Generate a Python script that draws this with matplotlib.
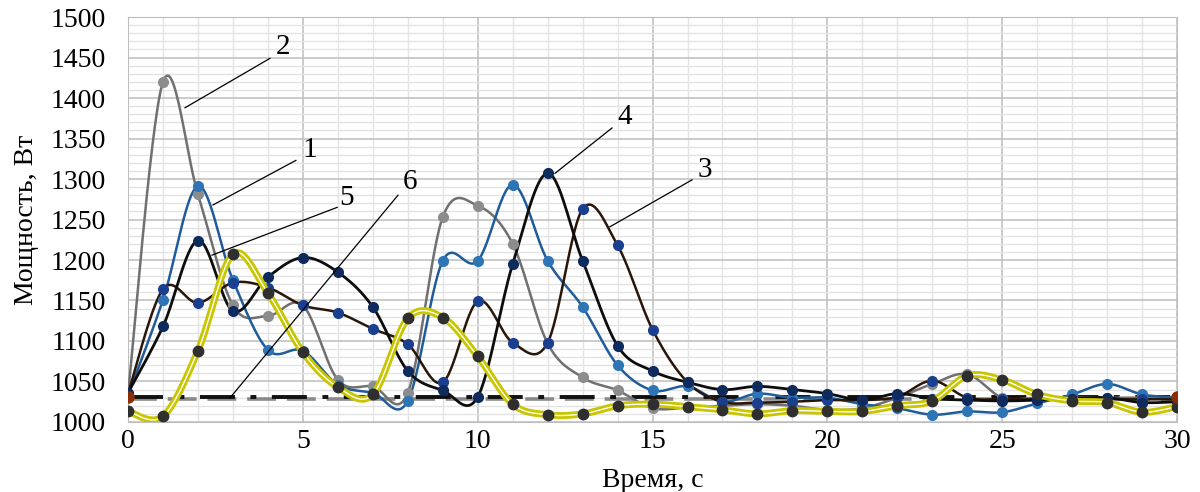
import numpy as np
import matplotlib
matplotlib.use("Agg")
import matplotlib.pyplot as plt
from matplotlib.ticker import MultipleLocator

plt.rcParams['font.family'] = ['Liberation Serif', 'DejaVu Serif']

# время, с
t = list(range(31))

# мощность, Вт
s1 = [1033, 1151, 1291, 1175, 1089, 1088, 1046, 1036, 1026, 1199, 1199, 1293, 1199, 1142, 1070, 1039,
      1044, 1025, 1035, 1030, 1030, 1022, 1017, 1009, 1013, 1012, 1023, 1034, 1047, 1034, 1030]
s2 = [1035, 1420, 1281, 1144, 1131, 1144, 1052, 1044, 1036, 1253, 1267, 1220, 1097, 1055, 1039, 1017,
      1018, 1020, 1022, 1020, 1015, 1017, 1030, 1047, 1059, 1030, 1030, 1030, 1030, 1030, 1030]
s3 = [1035, 1164, 1147, 1172, 1166, 1144, 1135, 1115, 1096, 1049, 1149, 1098, 1098, 1263, 1218, 1114,
      1049, 1025, 1024, 1025, 1027, 1027, 1031, 1051, 1030, 1028, 1028, 1028, 1028, 1028, 1028]
s4 = [1036, 1118, 1224, 1137, 1179, 1203, 1185, 1142, 1063, 1039, 1031, 1195, 1307, 1199, 1094, 1063,
      1049, 1040, 1044, 1040, 1035, 1027, 1035, 1029, 1027, 1026, 1027, 1029, 1030, 1024, 1025]
s5 = [1013, 1007, 1088, 1207, 1159, 1086, 1043, 1034, 1128, 1129, 1081, 1022, 1009, 1010, 1020, 1022,
      1019, 1015, 1010, 1014, 1013, 1013, 1020, 1026, 1057, 1052, 1034, 1026, 1024, 1012, 1019]
t6 = [0, 30]
s6 = [1031, 1031]
s6b = [1028, 1028]

# подписи кривых: номер, позиция текста, начало и конец выноски
labels = ["2", "1", "5", "6", "4", "3"]
label_xy = [(4.43, 1463), (5.2, 1336), (6.26, 1277), (8.06, 1296), (14.21, 1377), (16.5, 1311)]
leader_from = [(4.06, 1449), (4.80, 1323), (5.98, 1265), (7.72, 1280), (13.84, 1363), (16.13, 1299)]
leader_to = [(1.63, 1388), (2.43, 1268), (2.40, 1206), (2.92, 1030), (12.21, 1307), (13.78, 1241)]


def smooth(x, y, n=30):
    # сглаживание как в Excel (кривые Безье через точки)
    x = np.asarray(x, float)
    y = np.asarray(y, float)
    px = np.concatenate([[x[0]], x, [x[-1]]])
    py = np.concatenate([[y[0]], y, [y[-1]]])
    xs, ys = [], []
    u = np.linspace(0, 1, n)
    for i in range(1, len(px) - 2):
        p0 = np.array([px[i], py[i]])
        p3 = np.array([px[i + 1], py[i + 1]])
        c1 = p0 + (p3 - np.array([px[i - 1], py[i - 1]])) / 6
        c2 = p3 - (np.array([px[i + 2], py[i + 2]]) - p0) / 6
        b = (np.outer((1 - u) ** 3, p0) + np.outer(3 * (1 - u) ** 2 * u, c1)
             + np.outer(3 * (1 - u) * u ** 2, c2) + np.outer(u ** 3, p3))
        xs.append(b[:, 0])
        ys.append(b[:, 1])
    return np.concatenate(xs), np.concatenate(ys)


fig = plt.figure(figsize=(12, 4.92), dpi=100)
ax = fig.add_axes([0.1067, 0.1423, 0.8742, 0.8231])

ax.set_xlim(0, 30)
ax.set_ylim(1000, 1500)
ax.xaxis.set_major_locator(MultipleLocator(5))
ax.xaxis.set_minor_locator(MultipleLocator(1))
ax.yaxis.set_major_locator(MultipleLocator(50))
ax.yaxis.set_minor_locator(MultipleLocator(10))
ax.grid(which='minor', color='#E3E3E3', lw=1.0)
ax.grid(which='major', color='#BDBDBD', lw=1.1)
ax.set_axisbelow(True)
for sp in ax.spines.values():
    sp.set_color('#BDBDBD')
ax.tick_params(which='both', length=0, labelsize=20)
ax.tick_params(axis='y', pad=16)
ax.tick_params(axis='x', pad=5)

# 6 — штрихпунктир
ax.plot(t6, s6b, color='#8A8A8A', lw=2.6, ls=(0, (8, 3)), zorder=2)
ax.plot(t6, s6, color='#111111', lw=2.8, ls=(0, (9, 4, 1.5, 4)), zorder=2)
ax.plot(t6, s6, ls='none', marker='o', ms=8, color='#8B2E06', zorder=9)

# 2
xs, ys = smooth(t, s2)
ax.plot(xs, ys, color='#707070', lw=1.8, zorder=3)
ax.plot(t, s2, ls='none', marker='o', ms=7, color='#8C8C8C', zorder=4)

# 1
xs, ys = smooth(t, s1)
ax.plot(xs, ys, color='#1F5C99', lw=1.8, zorder=3)
ax.plot(t, s1, ls='none', marker='o', ms=7, color='#2E75B6', zorder=4)

# 3
xs, ys = smooth(t, s3)
ax.plot(xs, ys, color='#2A1608', lw=1.8, zorder=3)
ax.plot(t, s3, ls='none', marker='o', ms=7, color='#1B3F8F', zorder=4)

# 4
xs, ys = smooth(t, s4)
ax.plot(xs, ys, color='#0D0D0D', lw=2.0, zorder=3)
ax.plot(t, s4, ls='none', marker='o', ms=7, color='#0F2A5C', zorder=4)

# 5 — двойная жёлтая линия
xs, ys = smooth(t, s5)
ax.plot(xs, ys, color='#C9C600', lw=5, zorder=5)
ax.plot(xs, ys, color='white', lw=1.0, zorder=6)
ax.plot(t, s5, ls='none', marker='o', ms=7.5, color='#2F2F2F', zorder=7)

for lab, txy, a, b in zip(labels, label_xy, leader_from, leader_to):
    ax.plot([a[0], b[0]], [a[1], b[1]], color='black', lw=0.9, zorder=8)
    ax.text(txy[0], txy[1], lab, fontsize=21, ha='center', va='center', zorder=8)

ax.set_ylabel('Мощность, Вт', fontsize=20, labelpad=8)
ax.set_xlabel('Время, с', fontsize=20, labelpad=10)

fig.savefig('out.png', dpi=100)
